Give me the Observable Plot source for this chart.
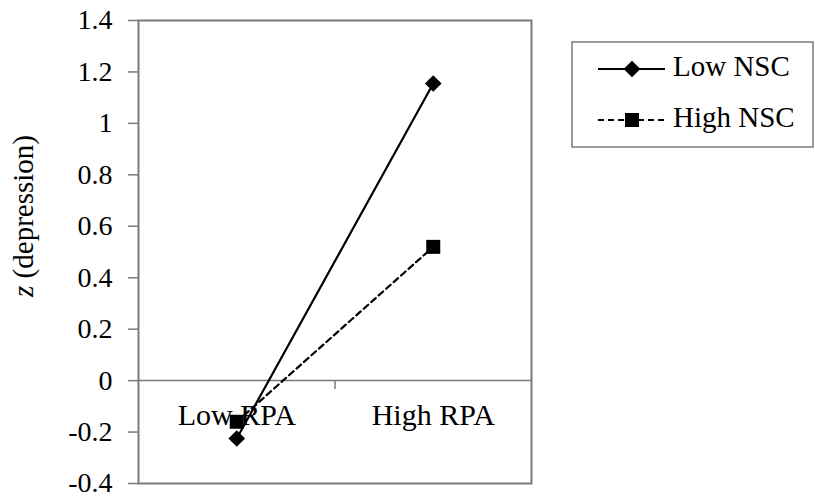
<!DOCTYPE html>
<html>
<head>
<meta charset="utf-8">
<script src="https://cdn.jsdelivr.net/npm/d3@7"></script>
<script src="https://cdn.jsdelivr.net/npm/@observablehq/plot@0.6"></script>
<style>
  html, body { margin: 0; padding: 0; background: #fff; }
</style>
</head>
<body>
<div id="chart"></div>
<script>
const categories = ["Low RPA", "High RPA"];
const seriesNames = ["Low NSC", "High NSC"];
const lowNSC = [-0.225, 1.155];
const highNSC = [-0.16, 0.52];
const yTicks = [-0.4, -0.2, 0, 0.2, 0.4, 0.6, 0.8, 1, 1.2, 1.4];
const yLabelItalic = "z";
const yLabelRest = " (depression)";

const FONT = "Liberation Serif";
const frameColor = "#7a7a7a";

const rows = (vals, name) => vals.map((v, i) => ({ cat: categories[i], xi: i + 0.5, value: v, series: name }));
const lowData = rows(lowNSC, seriesNames[0]);
const highData = rows(highNSC, seriesNames[1]);

const fmt = d => String(+(+d).toFixed(1));

const plot = Plot.plot({
  width: 815,
  height: 497,
  marginLeft: 138,
  marginRight: 284,
  marginTop: 20,
  marginBottom: 14,
  x: { type: "linear", domain: [0, categories.length] },
  y: { domain: [-0.4, 1.4] },
  marks: [
    Plot.frame({ stroke: frameColor, strokeWidth: 2 }),
    Plot.ruleY([0], { stroke: frameColor, strokeWidth: 1.5 }),
    Plot.ruleX([1], { y1: 0, y2: 0, insetBottom: -9, stroke: frameColor, strokeWidth: 1.5 }),
    Plot.axisY({
      ticks: yTicks, tickSize: 10, tickPadding: 16, tickFormat: fmt,
      fontSize: 28, fontFamily: FONT, fill: "#000", label: null, stroke: frameColor, strokeWidth: 1.5
    }),
    Plot.axisX({
      ticks: categories.map((c, i) => i + 0.5),
      tickFormat: d => categories[Math.round(d - 0.5)],
      tickSize: 0, tickPadding: -80, fontSize: 30, fontFamily: FONT, fill: "#000", label: null, lineAnchor: "top"
    }),
    Plot.line(lowData, { x: "xi", y: "value", stroke: "#000", strokeWidth: 2.2 }),
    Plot.line(highData, { x: "xi", y: "value", stroke: "#000", strokeWidth: 2.2, strokeDasharray: "6,4" }),
    Plot.dot(lowData, { x: "xi", y: "value", symbol: "diamond2", r: 7.5, fill: "#000", stroke: null }),
    Plot.dot(highData, { x: "xi", y: "value", symbol: "square", r: 7.9, fill: "#000", stroke: null })
  ]
});

const svg = d3.select(plot);
svg.attr("font-family", FONT);

// y-axis title with italic z
const yl = svg.append("text")
  .attr("transform", "translate(26,216) rotate(-90)")
  .attr("text-anchor", "middle")
  .attr("dominant-baseline", "middle")
  .attr("font-family", FONT)
  .attr("font-size", 29)
  .attr("fill", "#000");
yl.append("tspan").attr("font-style", "italic").text(yLabelItalic);
yl.append("tspan").text(yLabelRest);

// legend
const lg = svg.append("g").attr("font-family", FONT).attr("font-size", 29).attr("text-anchor", "start");
lg.append("rect").attr("x", 572).attr("y", 42).attr("width", 241).attr("height", 105)
  .attr("fill", "#fff").attr("stroke", frameColor).attr("stroke-width", 1.5);
const legendRows = [
  { name: seriesNames[0], y: 69, dash: null, sym: d3.symbolDiamond2, size: 177 },
  { name: seriesNames[1], y: 120, dash: "6,4", sym: d3.symbolSquare, size: 196 }
];
legendRows.forEach(r => {
  lg.append("line").attr("x1", 598).attr("x2", 665).attr("y1", r.y).attr("y2", r.y)
    .attr("stroke", "#000").attr("stroke-width", 2.2).attr("stroke-dasharray", r.dash);
  lg.append("path").attr("d", d3.symbol(r.sym, r.size)())
    .attr("transform", `translate(632,${r.y})`).attr("fill", "#000");
  lg.append("text").attr("x", 673).attr("y", r.y).attr("dominant-baseline", "middle")
    .attr("text-anchor", "start").attr("fill", "#000").text(r.name);
});

document.getElementById("chart").appendChild(plot);
</script>
</body>
</html>
